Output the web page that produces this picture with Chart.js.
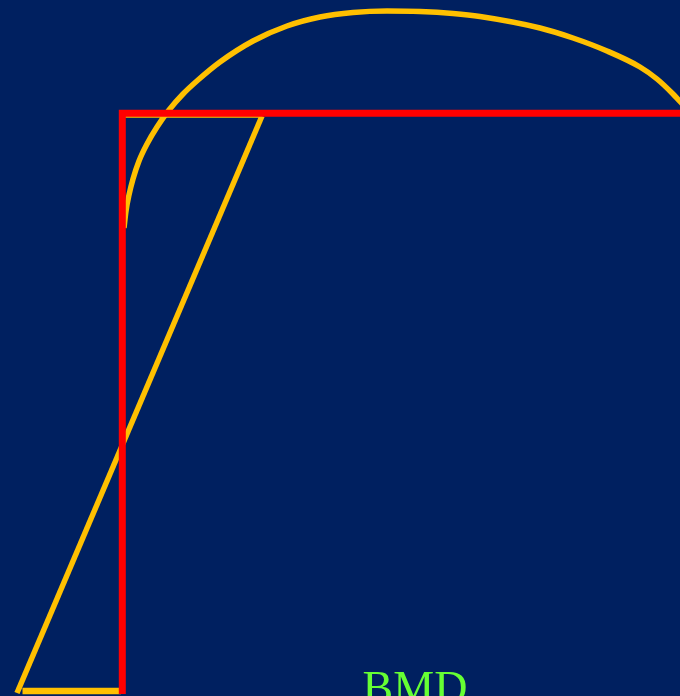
<!DOCTYPE html>
<html>
<head>
<meta charset="utf-8">
<script src="https://cdn.jsdelivr.net/npm/chart.js@4/dist/chart.umd.min.js"></script>
<style>
  html, body { margin: 0; padding: 0; background: #002060; }
  #wrap { width: 680px; height: 696px; position: relative; }
</style>
</head>
<body>
<div id="wrap"><canvas id="c" width="680" height="696"></canvas></div>
<script>
// Conceptual chart: values in plot units (x: 0-680, y: 0-696)
const curveX = [124, 126, 129, 133, 139, 147, 157, 169, 183, 198, 220, 253, 287, 320, 353, 387, 420, 453, 480, 540, 573, 607, 640, 657, 673, 686];
const curveY = [468, 485, 501, 517, 535, 552, 569, 586, 602, 616, 634, 655, 670, 679, 683.5, 685, 684.5, 682.5, 679.5, 668, 658, 645, 629, 617, 602, 588];
const frameX = [122.3, 122.3, 690];
const frameY = [2, 582.7, 582.7];
const slopeX = [17, 262];
const slopeY = [3, 580];
const topX = [125, 261];
const topY = [580.8, 580.8];
const baseX = [22.5, 121];
const baseY = [5, 5];
const label = "BMD";

const pts = (xs, ys) => xs.map((x, i) => ({ x, y: ys[i] }));
const yellow = "#FFC000";
const red = "#FF0000";

const textPlugin = {
  id: "bmdText",
  afterDraw(chart) {
    const ctx = chart.ctx;
    const xs = chart.scales.x, ys = chart.scales.y;
    ctx.save();
    ctx.fillStyle = "#66FF33";
    ctx.font = "46px 'Liberation Serif', 'DejaVu Serif', serif";
    ctx.textAlign = "center";
    ctx.textBaseline = "alphabetic";
    ctx.fillText(label, xs.getPixelForValue(415), ys.getPixelForValue(-7));
    ctx.restore();
  }
};

const line = (data, color, width, order, extra) => Object.assign({
  data, borderColor: color, borderWidth: width, showLine: true, order,
  pointRadius: 0, fill: false, tension: 0, borderCapStyle: "butt"
}, extra || {});

new Chart(document.getElementById("c"), {
  type: "scatter",
  data: {
    datasets: [
      line(pts(frameX, frameY), red, 7, 0, { borderJoinStyle: "miter" }),
      line(pts(curveX, curveY), yellow, 5.5, 1, { cubicInterpolationMode: "monotone" }),
      line(pts(topX, topY), yellow, 5, 2),
      line(pts(slopeX, slopeY), yellow, 5.5, 3),
      line(pts(baseX, baseY), yellow, 6.5, 4)
    ]
  },
  options: {
    responsive: false,
    animation: false,
    events: [],
    layout: { padding: 0 },
    plugins: { legend: { display: false }, tooltip: { enabled: false }, title: { display: false } },
    scales: {
      x: { type: "linear", display: false, min: 0, max: 680 },
      y: { type: "linear", display: false, min: 0, max: 696 }
    }
  },
  plugins: [textPlugin]
});
</script>
</body>
</html>
